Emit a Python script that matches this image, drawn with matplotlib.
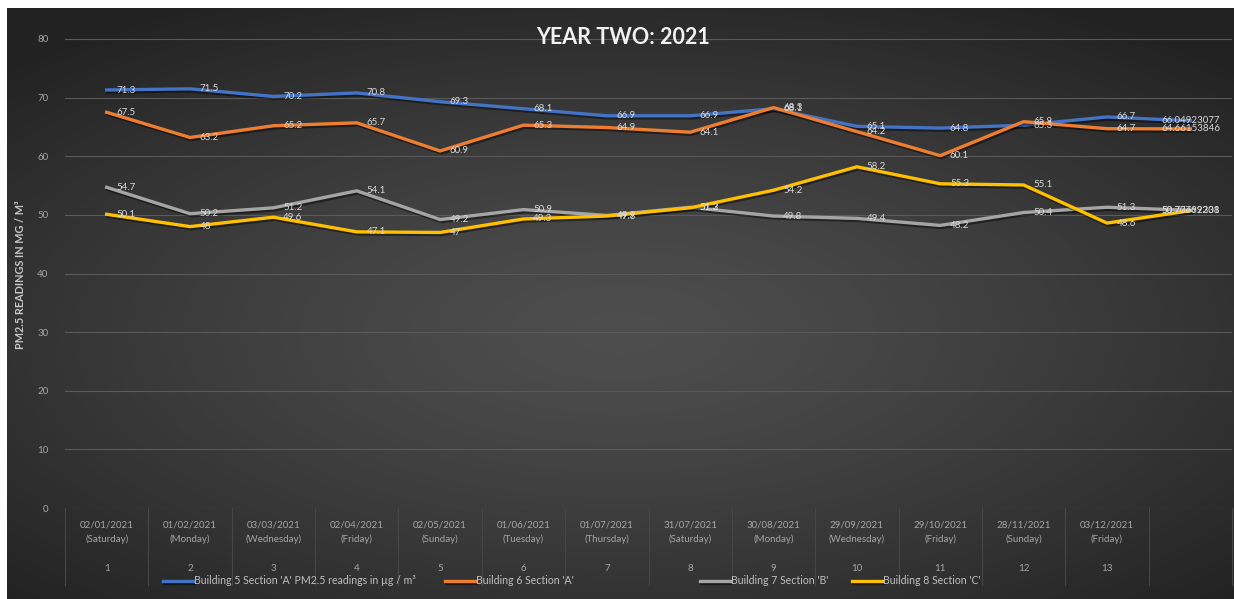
import numpy as np
import matplotlib
matplotlib.use("Agg")
import matplotlib.pyplot as plt
import matplotlib.patheffects as pe
from matplotlib.transforms import blended_transform_factory

plt.rcParams['font.family'] = ['Lato', 'DejaVu Sans']

# ---- data -------------------------------------------------------------
dates = ["02/01/2021", "01/02/2021", "03/03/2021", "02/04/2021", "02/05/2021",
         "01/06/2021", "01/07/2021", "31/07/2021", "30/08/2021", "29/09/2021",
         "29/10/2021", "28/11/2021", "03/12/2021", ""]
days = ["(Saturday)", "(Monday)", "(Wednesday)", "(Friday)", "(Sunday)",
        "(Tuesday)", "(Thursday)", "(Saturday)", "(Monday)", "(Wednesday)",
        "(Friday)", "(Sunday)", "(Friday)", ""]
visit_no = ["1", "2", "3", "4", "5", "6", "7", "8", "9", "10", "11", "12", "13", ""]

building5_a = [71.3, 71.5, 70.2, 70.8, 69.3, 68.1, 66.9, 66.9, 68.1, 65.1, 64.8, 65.3, 66.7, 66.04923077]
building6_a = [67.5, 63.2, 65.2, 65.7, 60.9, 65.3, 64.9, 64.1, 68.3, 64.2, 60.1, 65.9, 64.7, 64.66153846]
building7_b = [54.7, 50.2, 51.2, 54.1, 49.2, 50.9, 49.9, 51.3, 49.8, 49.4, 48.2, 50.4, 51.3, 50.77692308]
building8_c = [50.1, 48.0, 49.6, 47.1, 47.0, 49.3, 49.8, 51.2, 54.2, 58.2, 55.3, 55.1, 48.6, 50.70769231]

series = [
    ("Building 5 Section 'A' PM2.5 readings in \u00b5g / m\u00b3", building5_a, "#4472C4"),
    ("Building 6 Section 'A'", building6_a, "#ED7D31"),
    ("Building 7 Section 'B'", building7_b, "#A5A5A5"),
    ("Building 8 Section 'C'", building8_c, "#FFC000"),
]

W, H = 1234, 599
fig = plt.figure(figsize=(W / 100, H / 100), dpi=100)
fig.patch.set_facecolor("white")

# ---- dark radial background --------------------------------------------
bg = fig.add_axes([7 / W, 0, 1 - 7 / W, (H - 8) / H])
gx, gy = np.meshgrid(np.linspace(-1, 1, 400), np.linspace(-1, 1, 200))
dist = np.clip(np.sqrt((gx * 0.95) ** 2 + ((gy + 0.1) * 1.05) ** 2) / 1.35, 0, 1)
inner = np.array([0x4e, 0x4e, 0x4e]) / 255
outer = np.array([0x22, 0x22, 0x22]) / 255
img = inner[None, None, :] * (1 - dist[..., None] ** 1.3) + outer[None, None, :] * dist[..., None] ** 1.3
bg.imshow(img, aspect="auto", extent=[0, 1, 0, 1], origin="lower")
bg.set_axis_off()

# ---- main plot ---------------------------------------------------------
x0, x1 = 65, 1232
ytop, ybot = 39, 508
ax = fig.add_axes([x0 / W, (H - ybot) / H, (x1 - x0) / W, (ybot - ytop) / H])
ax.set_facecolor("none")
x = np.arange(1, len(dates) + 1)
ax.set_xlim(0.5, len(dates) + 0.5)
ax.set_ylim(0, 80)
ax.set_yticks(np.arange(0, 81, 10))
ax.yaxis.grid(True, color="#5a5a5a", linewidth=0.8)
ax.set_axisbelow(True)
for s in ax.spines.values():
    s.set_visible(False)
ax.tick_params(axis="y", length=0, pad=12, labelsize=7, labelcolor="#a6a6a6")
ax.set_xticks(x)
ax.set_xticklabels([f"{d}\n{w}" if d else "" for d, w in zip(dates, days)],
                   fontsize=7, color="#a6a6a6", linespacing=1.7)
ax.tick_params(axis="x", length=0, pad=9)

tr = blended_transform_factory(ax.transData, ax.transAxes)
for xi, n in zip(x, visit_no):
    ax.text(xi, -0.128, n, transform=tr, ha="center", va="center",
            fontsize=7, color="#a6a6a6")
# category separators under the axis
for b in np.arange(0.5, len(dates) + 1.0, 1.0):
    ax.plot([b, b], [0, -0.165], transform=tr, color="#464646",
            linewidth=0.8, clip_on=False)

last = len(x) - 1
handles = []
for name, vals, col in series:
    ln, = ax.plot(x, vals, color=col, linewidth=2.4, solid_joinstyle="round",
                  label=name,
                  path_effects=[pe.SimpleLineShadow(offset=(1, -1.5), alpha=0.45),
                                pe.Normal()])
    handles.append(ln)
    for i, (xi, v) in enumerate(zip(x, vals)):
        txt = f"{v:g}" if i < last else f"{v:.8f}"
        dx = 7 if i < last else -21
        ax.annotate(txt, (xi, v), xytext=(dx, 0), textcoords="offset points",
                    ha="left", va="center", fontsize=7, color="#d9d9d9",
                    annotation_clip=False)

fig.text(623 / W, 1 - 37 / H, "YEAR TWO: 2021", ha="center", va="center",
         fontsize=15.5, fontweight="bold", color="#f2f2f2")
fig.text(21 / W, 1 - 275 / H, "PM2.5 READINGS IN MG / M\u00b3", rotation=90,
         ha="center", va="center", fontsize=7.8, fontweight="bold", color="#c8c8c8")

# legend entries in one row below the category labels
legend_left = [163, 445, 700, 852]
for h, lx in zip(handles, legend_left):
    fig.legend(handles=[h], loc="center left", bbox_to_anchor=(lx / W, 1 - 581 / H),
               frameon=False, fontsize=7.6, handlelength=2.8, borderaxespad=0,
               borderpad=0, handletextpad=0.15, labelcolor="#bfbfbf")

fig.savefig("out.png", dpi=100)
